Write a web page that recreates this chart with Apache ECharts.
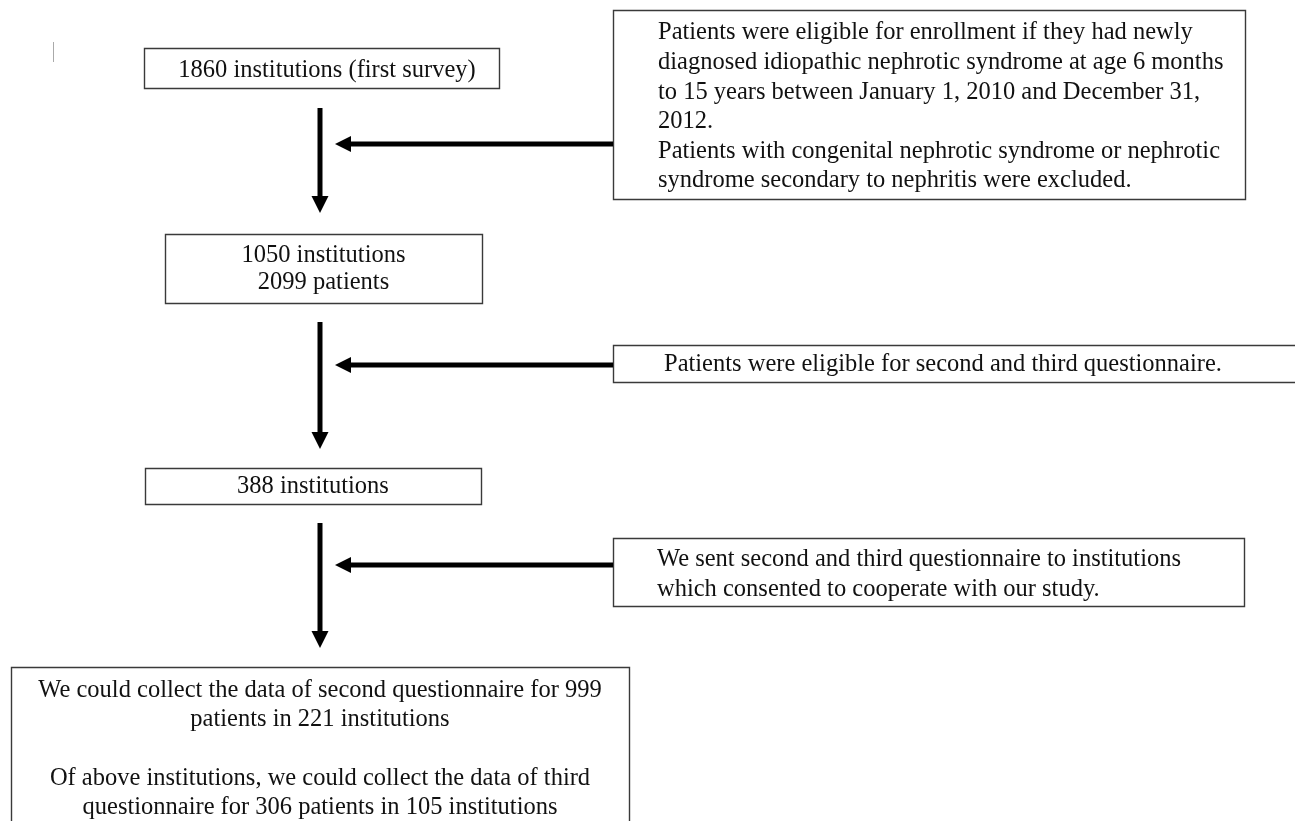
<!DOCTYPE html>
<html>
<head>
<meta charset="utf-8">
<script src="https://cdn.jsdelivr.net/npm/echarts@6/dist/echarts.min.js"></script>
<style>
html,body{margin:0;padding:0;background:#fff;}
#chart{width:1295px;height:821px;}
</style>
</head>
<body>
<div id="chart"></div>
<script>
// ---- content ----
const mainSteps = [
  "1860 institutions (first survey)",
  "1050 institutions\n2099 patients",
  "388 institutions",
  "We could collect the data of second questionnaire for 999\npatients in 221 institutions\n\nOf above institutions, we could collect the data of third\nquestionnaire for 306 patients in 105 institutions"
];
const sideNotes = [
  "Patients were eligible for enrollment if they had newly\ndiagnosed idiopathic nephrotic syndrome at age 6 months\nto 15 years between January 1, 2010 and December 31,\n2012.\nPatients with congenital nephrotic syndrome or nephrotic\nsyndrome secondary to nephritis were excluded.",
  "Patients were eligible for second and third questionnaire.",
  "We sent second and third questionnaire to institutions\nwhich consented to cooperate with our study."
];

// ---- layout (pixel-like coordinates on hidden axes) ----
const mainRects = [[144,48,499,88],[165,234,482,303],[145,468,481,504],[11,667,629,830]];
const mainTextX = [327,323.5,313,320];
const mainTextY = [71,269,487,749];
const mainLineH = [27,27,27,29.3];
const sideRects = [[613,10,1245,199],[613,345,1300,382],[613,538,1244,606]];
const sideTextX = [658,664,657];
const sideTextY = [107,365,575];
const sideLineH = [29.6,29.6,30];
const downArrows = [[320,108,213],[320,322,449],[320,523,648]]; // x, yStart, yTip
const leftArrows = [[613,335,144],[613,335,365],[613,335,565]]; // xStart, xTip, y

const FONT = '"Liberation Serif","Times New Roman",serif';
const FS = 24.5;

const boxData = [];
mainRects.forEach((r,i)=>boxData.push({value:[r[0],r[1],r[2],r[3]], text:mainSteps[i], align:'center', tx:mainTextX[i], ty:mainTextY[i], lh:mainLineH[i]}));
sideRects.forEach((r,i)=>boxData.push({value:[r[0],r[1],r[2],r[3]], text:sideNotes[i], align:'left', tx:sideTextX[i], ty:sideTextY[i], lh:sideLineH[i]}));

const arrowData = [];
downArrows.forEach(a=>arrowData.push({value:[a[0],a[1],a[0],a[2]], dir:'down'}));
leftArrows.forEach(a=>arrowData.push({value:[a[0],a[2],a[1],a[2]], dir:'left'}));

const chart = echarts.init(document.getElementById('chart'), null, {renderer:'canvas'});
chart.setOption({
  animation:false,
  backgroundColor:'#fff',
  grid:{left:0,right:0,top:0,bottom:0},
  xAxis:{type:'value',min:0,max:1295,show:false},
  yAxis:{type:'value',min:0,max:821,inverse:true,show:false},
  series:[
    {
      type:'custom',
      data:boxData,
      renderItem:function(params, api){
        const d = boxData[params.dataIndex];
        const p0 = api.coord([api.value(0), api.value(1)]);
        const p1 = api.coord([api.value(2), api.value(3)]);
        const t = api.coord([d.tx, d.ty]);
        return {
          type:'group',
          children:[
            {type:'rect', shape:{x:p0[0]+0.5,y:p0[1]+0.5,width:p1[0]-p0[0],height:p1[1]-p0[1]},
             style:{fill:'#fff',stroke:'#3a3a3a',lineWidth:1.4}},
            {type:'text', x:t[0], y:t[1],
             style:{text:d.text, fill:'#111', font: FS+'px '+FONT, align:d.align, verticalAlign:'middle', lineHeight:d.lh}}
          ]
        };
      }
    },
    {
      type:'custom',
      data:arrowData,
      renderItem:function(params, api){
        const d = arrowData[params.dataIndex];
        const s = api.coord([api.value(0), api.value(1)]);
        const e = api.coord([api.value(2), api.value(3)]);
        if (d.dir==='down'){
          const headL = 17, headW = 8.5;
          return {type:'group',children:[
            {type:'rect',shape:{x:s[0]-2.5,y:s[1],width:5,height:(e[1]-headL+1)-s[1]},style:{fill:'#000'}},
            {type:'polygon',shape:{points:[[e[0]-headW,e[1]-headL],[e[0]+headW,e[1]-headL],[e[0],e[1]]]},style:{fill:'#000'}}
          ]};
        } else {
          const headL = 16, headW = 8;
          return {type:'group',children:[
            {type:'rect',shape:{x:e[0]+headL-1,y:s[1]-2.5,width:s[0]-(e[0]+headL-1),height:5},style:{fill:'#000'}},
            {type:'polygon',shape:{points:[[e[0]+headL,e[1]-headW],[e[0]+headL,e[1]+headW],[e[0],e[1]]]},style:{fill:'#000'}}
          ]};
        }
      }
    },
    {
      type:'custom',
      data:[[53,42,53,62]],
      renderItem:function(params, api){
        const s = api.coord([api.value(0), api.value(1)]);
        const e = api.coord([api.value(2), api.value(3)]);
        return {type:'line',shape:{x1:s[0]+0.5,y1:s[1],x2:e[0]+0.5,y2:e[1]},style:{stroke:'#aaa',lineWidth:1}};
      }
    }
  ]
});
</script>
</body>
</html>
